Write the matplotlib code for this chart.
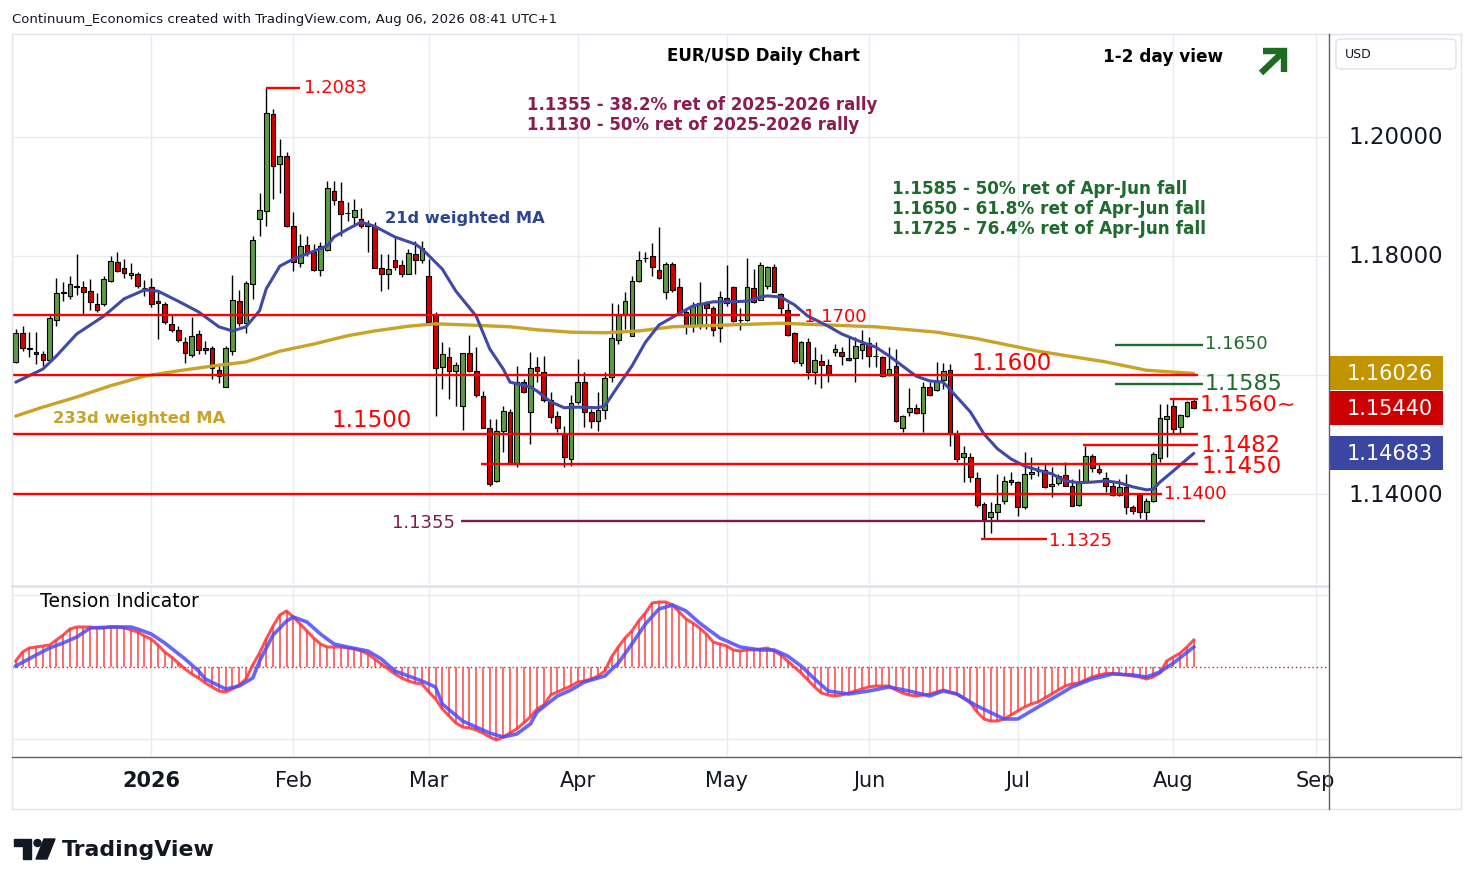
import numpy as np
import pandas as pd
import matplotlib
matplotlib.use("Agg")
import matplotlib.pyplot as plt
from matplotlib.patches import Rectangle, Ellipse, Polygon, FancyBboxPatch
from matplotlib.lines import Line2D

# ---------------------------------------------------------------- data
# EUR/USD daily candles, 3 Dec 2025 .. 6 Aug 2026
opens = [1.1622, 1.1671, 1.1645, 1.1638, 1.1635, 1.1625, 1.1692, 1.1738, 1.1733, 1.1750,
         1.1748, 1.1741, 1.1719, 1.1719, 1.1758, 1.1790, 1.1780, 1.1768, 1.1770, 1.1747,
         1.1748, 1.1725, 1.1719, 1.1685, 1.1675, 1.1655, 1.1634, 1.1669, 1.1645, 1.1645,
         1.1608, 1.1580, 1.1640, 1.1724, 1.1687, 1.1753, 1.1862, 1.1876, 1.2039, 1.1955,
         1.1968, 1.1850, 1.1788, 1.1818, 1.1806, 1.1776, 1.1810, 1.1909, 1.1892, 1.1873,
         1.1866, 1.1862, 1.1850, 1.1851, 1.1780, 1.1769, 1.1793, 1.1785, 1.1770, 1.1803,
         1.1793, 1.1766, 1.1700, 1.1613, 1.1630, 1.1607, 1.1548, 1.1637, 1.1607, 1.1565,
         1.1511, 1.1422, 1.1506, 1.1538, 1.1450, 1.1588, 1.1538, 1.1613, 1.1605, 1.1558,
         1.1531, 1.1501, 1.1459, 1.1555, 1.1588, 1.1538, 1.1523, 1.1541, 1.1597, 1.1658,
         1.1701, 1.1666, 1.1758, 1.1796, 1.1800, 1.1776, 1.1740, 1.1787, 1.1748, 1.1706,
         1.1682, 1.1682, 1.1719, 1.1713, 1.1679, 1.1729, 1.1748, 1.1692, 1.1692, 1.1746,
         1.1726, 1.1750, 1.1782, 1.1736, 1.1710, 1.1671, 1.1620, 1.1655, 1.1605, 1.1624,
         1.1617, 1.1639, 1.1639, 1.1629, 1.1629, 1.1642, 1.1654, 1.1632, 1.1630, 1.1602,
         1.1615, 1.1511, 1.1538, 1.1545, 1.1536, 1.1580, 1.1575, 1.1592, 1.1608, 1.1500,
         1.1463, 1.1463, 1.1427, 1.1383, 1.1361, 1.1369, 1.1388, 1.1424, 1.1420, 1.1378,
         1.1434, 1.1439, 1.1440, 1.1414, 1.1418, 1.1432, 1.1413, 1.1382, 1.1420, 1.1464,
         1.1442, 1.1427, 1.1413, 1.1398, 1.1412, 1.1378, 1.1398, 1.1370, 1.1388, 1.1461,
         1.1526, 1.1548, 1.1513, 1.1531, 1.1557]
highs = [1.1677, 1.1682, 1.1672, 1.1672, 1.1640, 1.1700, 1.1763, 1.1756, 1.1766, 1.1803,
         1.1758, 1.1761, 1.1738, 1.1766, 1.1800, 1.1807, 1.1795, 1.1788, 1.1773, 1.1760,
         1.1763, 1.1740, 1.1723, 1.1702, 1.1682, 1.1664, 1.1697, 1.1676, 1.1657, 1.1649,
         1.1615, 1.1649, 1.1768, 1.1743, 1.1758, 1.1834, 1.1906, 1.2083, 1.2047, 1.1997,
         1.1975, 1.1874, 1.1837, 1.1834, 1.1820, 1.1824, 1.1926, 1.1926, 1.1924, 1.1890,
         1.1896, 1.1880, 1.1860, 1.1857, 1.1804, 1.1804, 1.1834, 1.1793, 1.1812, 1.1825,
         1.1825, 1.1795, 1.1706, 1.1655, 1.1647, 1.1622, 1.1637, 1.1667, 1.1647, 1.1573,
         1.1526, 1.1526, 1.1548, 1.1543, 1.1615, 1.1593, 1.1639, 1.1630, 1.1632, 1.1571,
         1.1540, 1.1514, 1.1566, 1.1627, 1.1605, 1.1543, 1.1571, 1.1605, 1.1721, 1.1719,
         1.1739, 1.1766, 1.1808, 1.1807, 1.1822, 1.1849, 1.1790, 1.1790, 1.1763, 1.1711,
         1.1723, 1.1756, 1.1724, 1.1716, 1.1741, 1.1785, 1.1750, 1.1713, 1.1797, 1.1778,
         1.1790, 1.1783, 1.1787, 1.1738, 1.1721, 1.1672, 1.1657, 1.1662, 1.1647, 1.1635,
         1.1627, 1.1652, 1.1647, 1.1664, 1.1664, 1.1676, 1.1664, 1.1655, 1.1632, 1.1647,
         1.1644, 1.1533, 1.1578, 1.1551, 1.1588, 1.1588, 1.1622, 1.1620, 1.1618, 1.1508,
         1.1480, 1.1469, 1.1437, 1.1387, 1.1386, 1.1433, 1.1430, 1.1437, 1.1422, 1.1471,
         1.1463, 1.1447, 1.1450, 1.1445, 1.1434, 1.1454, 1.1425, 1.1442, 1.1481, 1.1467,
         1.1450, 1.1437, 1.1422, 1.1425, 1.1434, 1.1381, 1.1398, 1.1393, 1.1470, 1.1551,
         1.1551, 1.1561, 1.1535, 1.1557, 1.1559]
lows = [1.1620, 1.1640, 1.1630, 1.1618, 1.1615, 1.1622, 1.1682, 1.1724, 1.1728, 1.1735,
        1.1703, 1.1710, 1.1706, 1.1716, 1.1756, 1.1773, 1.1763, 1.1761, 1.1746, 1.1733,
        1.1714, 1.1660, 1.1685, 1.1672, 1.1655, 1.1620, 1.1630, 1.1635, 1.1635, 1.1593,
        1.1587, 1.1580, 1.1633, 1.1682, 1.1670, 1.1728, 1.1834, 1.1850, 1.1896, 1.1906,
        1.1849, 1.1775, 1.1781, 1.1800, 1.1775, 1.1766, 1.1808, 1.1886, 1.1834, 1.1859,
        1.1854, 1.1847, 1.1806, 1.1780, 1.1741, 1.1744, 1.1777, 1.1764, 1.1770, 1.1770,
        1.1788, 1.1685, 1.1531, 1.1576, 1.1560, 1.1548, 1.1508, 1.1605, 1.1563, 1.1511,
        1.1414, 1.1420, 1.1471, 1.1450, 1.1445, 1.1570, 1.1484, 1.1588, 1.1555, 1.1519,
        1.1504, 1.1445, 1.1447, 1.1551, 1.1513, 1.1511, 1.1506, 1.1526, 1.1588, 1.1652,
        1.1677, 1.1666, 1.1756, 1.1790, 1.1766, 1.1761, 1.1728, 1.1740, 1.1706, 1.1669,
        1.1672, 1.1677, 1.1677, 1.1666, 1.1655, 1.1716, 1.1689, 1.1676, 1.1691, 1.1721,
        1.1726, 1.1745, 1.1739, 1.1700, 1.1666, 1.1620, 1.1615, 1.1593, 1.1585, 1.1578,
        1.1588, 1.1632, 1.1617, 1.1623, 1.1588, 1.1627, 1.1613, 1.1613, 1.1597, 1.1598,
        1.1521, 1.1504, 1.1531, 1.1534, 1.1504, 1.1565, 1.1573, 1.1576, 1.1480, 1.1454,
        1.1420, 1.1420, 1.1378, 1.1325, 1.1335, 1.1355, 1.1383, 1.1415, 1.1363, 1.1375,
        1.1425, 1.1430, 1.1410, 1.1395, 1.1415, 1.1413, 1.1380, 1.1380, 1.1420, 1.1437,
        1.1434, 1.1403, 1.1397, 1.1397, 1.1366, 1.1366, 1.1360, 1.1355, 1.1387, 1.1454,
        1.1462, 1.1503, 1.1503, 1.1529, 1.1543]
closes = [1.1671, 1.1645, 1.1643, 1.1636, 1.1625, 1.1696, 1.1738, 1.1740, 1.1753, 1.1748,
          1.1740, 1.1722, 1.1709, 1.1761, 1.1792, 1.1775, 1.1771, 1.1771, 1.1750, 1.1746,
          1.1719, 1.1721, 1.1689, 1.1675, 1.1659, 1.1637, 1.1665, 1.1642, 1.1642, 1.1612,
          1.1598, 1.1645, 1.1726, 1.1687, 1.1755, 1.1827, 1.1877, 1.2040, 1.1951, 1.1968,
          1.1850, 1.1790, 1.1817, 1.1805, 1.1776, 1.1817, 1.1914, 1.1894, 1.1871, 1.1872,
          1.1878, 1.1850, 1.1853, 1.1780, 1.1769, 1.1778, 1.1782, 1.1770, 1.1805, 1.1793,
          1.1814, 1.1689, 1.1612, 1.1635, 1.1607, 1.1617, 1.1637, 1.1607, 1.1566, 1.1511,
          1.1417, 1.1506, 1.1540, 1.1450, 1.1588, 1.1571, 1.1612, 1.1607, 1.1558, 1.1529,
          1.1511, 1.1462, 1.1553, 1.1588, 1.1538, 1.1523, 1.1541, 1.1595, 1.1662, 1.1701,
          1.1724, 1.1758, 1.1793, 1.1797, 1.1781, 1.1763, 1.1787, 1.1743, 1.1706, 1.1682,
          1.1716, 1.1721, 1.1713, 1.1676, 1.1731, 1.1721, 1.1691, 1.1693, 1.1748, 1.1723,
          1.1785, 1.1782, 1.1740, 1.1713, 1.1668, 1.1624, 1.1655, 1.1605, 1.1625, 1.1617,
          1.1602, 1.1644, 1.1632, 1.1625, 1.1649, 1.1652, 1.1632, 1.1632, 1.1598, 1.1610,
          1.1523, 1.1531, 1.1545, 1.1536, 1.1580, 1.1566, 1.1590, 1.1607, 1.1500, 1.1459,
          1.1469, 1.1428, 1.1381, 1.1358, 1.1369, 1.1384, 1.1422, 1.1420, 1.1378, 1.1434,
          1.1437, 1.1438, 1.1412, 1.1417, 1.1430, 1.1413, 1.1380, 1.1418, 1.1464, 1.1444,
          1.1437, 1.1413, 1.1398, 1.1412, 1.1378, 1.1371, 1.1370, 1.1388, 1.1467, 1.1528,
          1.1531, 1.1510, 1.1533, 1.1555, 1.1544]

# 21d weighted MA (bar index, value)
ma21_idx = [0, 4, 6, 9, 13, 16, 19, 21, 24, 27, 30, 32, 34, 36, 37, 39, 41, 44, 46, 47,
            49, 51, 53, 56, 59, 60, 63, 65, 68, 70, 72, 73, 76, 77, 79, 81, 83, 86, 87, 89,
            91, 93, 95, 97, 100, 103, 105, 108, 110, 111, 113, 115, 117, 120, 122, 125, 127, 129, 131, 133,
            135, 137, 139, 141, 143, 145, 147, 149, 151, 153, 155, 157, 159, 161, 163, 165, 167, 168, 169, 171,
            174]
ma21_val = [1.1588, 1.1610, 1.1632, 1.1669, 1.1699, 1.1728, 1.1743, 1.1741, 1.1724, 1.1706,
            1.1681, 1.1674, 1.1681, 1.1708, 1.1745, 1.1783, 1.1795, 1.1808, 1.1817, 1.1832,
            1.1845, 1.1857, 1.1850, 1.1832, 1.1820, 1.1812, 1.1778, 1.1741, 1.1699, 1.1644,
            1.1610, 1.1588, 1.1580, 1.1573, 1.1555, 1.1545, 1.1546, 1.1545, 1.1548, 1.1582,
            1.1615, 1.1655, 1.1684, 1.1697, 1.1716, 1.1723, 1.1723, 1.1724, 1.1731, 1.1733,
            1.1731, 1.1718, 1.1699, 1.1682, 1.1669, 1.1655, 1.1647, 1.1632, 1.1615, 1.1598,
            1.1590, 1.1588, 1.1563, 1.1538, 1.1501, 1.1476, 1.1459, 1.1447, 1.1440, 1.1434,
            1.1422, 1.1419, 1.1420, 1.1422, 1.1419, 1.1412, 1.1407, 1.1408, 1.1420, 1.1439,
            1.14683]

# 233d weighted MA
ma233_idx = [0, 4, 9, 14, 19, 24, 29, 34, 39, 44, 49, 53, 58, 62, 67, 73, 77, 82, 87, 92,
             97, 105, 113, 120, 127, 136, 142, 151, 161, 167, 174]
ma233_val = [1.1531, 1.1546, 1.1563, 1.1582, 1.1598, 1.1607, 1.1615, 1.1622, 1.1640, 1.1652,
             1.1666, 1.1674, 1.1682, 1.1686, 1.1684, 1.1681, 1.1676, 1.1672, 1.1671, 1.1674,
             1.1681, 1.1684, 1.1687, 1.1684, 1.1681, 1.1672, 1.1661, 1.1640, 1.1622, 1.1608,
             1.16026]

# Tension indicator, one value per bar
tension = [0.6, 1.5, 1.9, 2.0, 2.1, 2.2, 2.7, 3.2, 3.8, 4.0,
           4.0, 4.0, 3.9, 3.9, 4.0, 4.0, 3.9, 3.7, 3.5, 3.1,
           2.8, 2.2, 1.5, 1.0, 0.4, -0.2, -0.7, -1.1, -1.6, -2.0,
           -2.4, -2.5, -2.2, -1.8, -1.2, 0.2, 1.4, 2.8, 4.1, 5.2,
           5.6, 5.0, 4.3, 3.6, 2.9, 2.3, 2.0, 2.0, 2.0, 1.9,
           1.8, 1.6, 1.3, 0.8, 0.3, -0.2, -0.7, -1.1, -1.4, -1.6,
           -1.7, -2.5, -3.2, -4.2, -4.9, -5.6, -6.0, -6.1, -6.3, -6.6,
           -7.0, -7.3, -7.0, -6.6, -6.2, -5.6, -5.0, -4.2, -3.8, -2.8,
           -2.5, -2.2, -1.9, -1.5, -1.4, -1.2, -0.9, -0.4, 1.0, 2.0,
           2.9, 3.6, 4.6, 5.4, 6.4, 6.5, 6.5, 6.2, 5.5, 4.8,
           4.4, 3.9, 3.3, 2.5, 2.3, 2.1, 1.7, 1.6, 1.7, 1.7,
           1.8, 1.9, 1.6, 1.2, 0.6, 0.0, -0.6, -1.3, -2.0, -2.6,
           -2.8, -2.9, -2.8, -2.6, -2.4, -2.2, -2.0, -1.9, -1.9, -1.9,
           -2.3, -2.6, -2.8, -2.9, -2.8, -2.7, -2.5, -2.3, -2.5, -2.7,
           -3.1, -3.6, -4.5, -5.2, -5.4, -5.4, -5.2, -4.8, -4.4, -4.0,
           -3.7, -3.5, -3.1, -2.7, -2.3, -1.9, -1.7, -1.6, -1.3, -1.0,
           -0.8, -0.65, -0.65, -0.7, -0.8, -0.9, -1.0, -1.2, -1.0, -0.6,
           0.6, 1.0, 1.4, 2.0, 2.7]

# Tension signal line
sig_idx = [0, 3, 5, 7, 9, 11, 14, 17, 18, 20, 22, 25, 27, 28, 31, 33, 35, 36, 38, 40,
           41, 43, 45, 47, 49, 52, 54, 56, 60, 62, 63, 66, 68, 70, 72, 74, 76, 77, 80, 82,
           84, 87, 89, 91, 93, 95, 97, 99, 101, 104, 107, 110, 112, 114, 116, 118, 120, 123, 126, 129,
           132, 135, 137, 139, 142, 146, 148, 150, 153, 156, 159, 162, 165, 167, 169, 171, 174]
sig_val = [0.1, 1.2, 1.9, 2.4, 3.0, 3.9, 4.0, 4.0, 3.8, 3.3, 2.4, 0.8, -0.4, -1.2, -2.2, -1.9, -1.1, 0.6, 3.2, 4.6,
           5.0, 4.5, 3.3, 2.3, 2.0, 1.6, 0.8, -0.4, -1.4, -2.0, -3.7, -5.4, -6.0, -6.6, -7.0, -6.7, -5.7, -4.5, -2.9, -2.3,
           -1.5, -0.9, 0.4, 2.3, 4.3, 5.8, 6.2, 5.6, 4.4, 2.9, 2.0, 1.7, 1.7, 1.1, 0.1, -1.2, -2.4, -2.7, -2.4, -2.0,
           -2.4, -2.9, -2.4, -2.7, -3.9, -5.2, -5.2, -4.4, -3.2, -2.0, -1.2, -0.7, -0.8, -1.0, -0.5, 0.4, 2.0]

# marked levels
red_levels = [1.2083, 1.1700, 1.1600, 1.1500, 1.1482, 1.1450, 1.1400, 1.1325, 1.1560]
green_levels = [1.1650, 1.1585]
fib_level = 1.1355
axis_prices = [1.20, 1.18, 1.14]
grid_prices = [1.20, 1.18, 1.16, 1.14]
month_names = ["2026", "Feb", "Mar", "Apr", "May", "Jun", "Jul", "Aug", "Sep"]

# ---------------------------------------------------------------- layout
W, H = 1474, 887
X0_PX, BAR_PX = 15.8, 6.77          # pixel of bar 0 and bar spacing
REF_PRICE, REF_PX, PX_PER_UNIT = 1.16, 376.0, 5950.0
LEFT, RIGHT = 12, 1328
MAIN_TOP, MAIN_BOT = 35, 585
LOW_TOP, LOW_BOT = 588, 757

def fx(px):
    return px / W

def fy(py):
    return 1 - py / H

def bar_at(px):
    return (px - X0_PX) / BAR_PX

def price_at(py):
    return REF_PRICE + (REF_PX - py) / PX_PER_UNIT

def py_of(price):
    return REF_PX - (price - REF_PRICE) * PX_PER_UNIT

RED = '#ff0000'
GREEN_TXT = '#1e6b2e'
PURPLE = '#7d1d4f'
GRID = '#e6ebf2'
DARK = '#131722'

fig = plt.figure(figsize=(W / 100, H / 100), dpi=100)
fig.patch.set_facecolor('white')

ax = fig.add_axes([fx(LEFT), fy(MAIN_BOT), (RIGHT - LEFT) / W, (MAIN_BOT - MAIN_TOP) / H])
axl = fig.add_axes([fx(LEFT), fy(LOW_BOT), (RIGHT - LEFT) / W, (LOW_BOT - LOW_TOP) / H])

for a in (ax, axl):
    a.set_xlim(bar_at(LEFT), bar_at(RIGHT))
    for s in a.spines.values():
        s.set_visible(False)
    a.set_xticks([])
    a.set_yticks([])

ax.set_ylim(price_at(MAIN_BOT), price_at(MAIN_TOP))
axl.set_ylim((668 - LOW_BOT) / 10, (668 - LOW_TOP) / 10)

# trading-day calendar for the x axis
days = pd.bdate_range('2025-12-03', '2026-09-30')
days = days[~days.isin(pd.to_datetime(['2025-12-25', '2026-01-01']))]
month_start = []
for m in range(1, 10):
    month_start.append(int(np.argmax((days.year == 2026) & (days.month == m))))

# grid
for m in month_start:
    ax.axvline(m, color=GRID, lw=1, zorder=0)
    axl.axvline(m, color=GRID, lw=1, zorder=0)
for p in grid_prices:
    ax.axhline(p, color=GRID, lw=1, zorder=0)
for v in (7.2, -7.2):
    axl.axhline(v, color=GRID, lw=1, zorder=0)

# candles
n = len(closes)
idx = np.arange(n)
o = np.array(opens)
c = np.array(closes)
up = c >= o
body_lo = np.minimum(o, c)
body_h = np.maximum(np.abs(c - o), 0.00004)
ax.vlines(idx, lows, highs, color='black', lw=1, zorder=2)
ax.bar(idx[up], body_h[up], bottom=body_lo[up], width=0.7, color='#5d9c43',
       edgecolor='black', linewidth=0.8, zorder=3)
ax.bar(idx[~up], body_h[~up], bottom=body_lo[~up], width=0.7, color='#d00000',
       edgecolor='black', linewidth=0.8, zorder=3)

# moving averages
ax.plot(ma233_idx, ma233_val, color='#c9a227', lw=2.4, zorder=4, solid_capstyle='round')
ax.plot(ma21_idx, ma21_val, color='#4149a8', lw=2.2, zorder=4, solid_capstyle='round')

# level lines (spans in pixels)
red_spans = [(266, 300), (12, 800), (12, 1198), (12, 1198), (1083, 1198),
             (481, 1198), (12, 1162), (981, 1047), (1170, 1198)]
for lvl, (x1, x2) in zip(red_levels, red_spans):
    ax.hlines(lvl, bar_at(x1), bar_at(x2), color=RED, lw=1.7, zorder=5)
for lvl in green_levels:
    ax.hlines(lvl, bar_at(1115), bar_at(1203), color=GREEN_TXT, lw=1.7, zorder=5)
ax.hlines(fib_level, bar_at(461), bar_at(1205), color=PURPLE, lw=1.7, zorder=5)

# level labels (pixel positions, size)
red_label_pos = [(304, 88, 13), (804, 317, 13), (971, 363, 16.5), (331, 421, 16.5),
                 (1200, 446, 16.5), (1201, 467, 16.5), (1164, 494, 13), (1049, 541, 13),
                 (1200, 405, 16)]
for lvl, (x, y, fs) in zip(red_levels, red_label_pos):
    txt = f"{lvl:.4f}" + ("~" if lvl == 1.1560 else "")
    fig.text(fx(x), fy(y), txt, color=RED, fontsize=fs, va='center', ha='left', zorder=6)
fig.text(fx(1205), fy(344), f"{green_levels[0]:.4f}", color=GREEN_TXT, fontsize=13, va='center')
fig.text(fx(1205), fy(384), f"{green_levels[1]:.4f}", color=GREEN_TXT, fontsize=16, va='center')
fig.text(fx(392), fy(523), f"{fib_level:.4f}", color=PURPLE, fontsize=13, va='center')

# annotations
fig.text(fx(12), fy(19), "Continuum_Economics created with TradingView.com, Aug 06, 2026 08:41 UTC+1",
         fontsize=9.5, color=DARK, va='center')
fig.text(fx(763), fy(56), "EUR/USD Daily Chart", fontsize=12, fontweight='bold',
         color='black', ha='center', va='center')
fig.text(fx(1103), fy(57), "1-2 day view", fontsize=12.2, fontweight='bold', color='black', va='center')

# green "up" arrow
arrow_green = '#1e6b22'
fig.add_artist(Line2D([fx(1261), fx(1283)], [fy(74), fy(53)], color=arrow_green, lw=4.6,
                      transform=fig.transFigure, solid_capstyle='butt'))
fig.add_artist(Line2D([fx(1263), fx(1284), fx(1284)], [fy(52), fy(52), fy(73)], color=arrow_green,
                      lw=4.6, transform=fig.transFigure, solid_joinstyle='miter',
                      solid_capstyle='butt'))

fig.text(fx(527), fy(105), "1.1355 - 38.2% ret of 2025-2026 rally", fontsize=12,
         fontweight='bold', color='#8b1c52', va='center')
fig.text(fx(527), fy(125), "1.1130 - 50% ret of 2025-2026 rally", fontsize=12,
         fontweight='bold', color='#8b1c52', va='center')
fig.text(fx(892), fy(189), "1.1585 - 50% ret of Apr-Jun fall", fontsize=12.2,
         fontweight='bold', color=GREEN_TXT, va='center')
fig.text(fx(892), fy(209), "1.1650 - 61.8% ret of Apr-Jun fall", fontsize=12.2,
         fontweight='bold', color=GREEN_TXT, va='center')
fig.text(fx(892), fy(229), "1.1725 - 76.4% ret of Apr-Jun fall", fontsize=12.2,
         fontweight='bold', color=GREEN_TXT, va='center')
fig.text(fx(385), fy(219), "21d weighted MA", fontsize=11.7, fontweight='bold', color='#2b4593', va='center')
fig.text(fx(53), fy(419), "233d weighted MA", fontsize=11.8, fontweight='bold', color='#c9a227', va='center')

# tension pane
axl.vlines(idx, 0, tension, color='#ff4d4d', lw=1.3, alpha=0.9, zorder=2)
axl.plot(idx, tension, color='#ff3333', lw=2.2, alpha=0.85, zorder=3)
axl.plot(sig_idx, sig_val, color='#4b4bff', lw=2.6, alpha=0.85, zorder=4)
axl.axhline(0, color='#d02020', lw=1, ls=(0, (1, 2)), zorder=1)
fig.text(fx(40), fy(602), "Tension Indicator", fontsize=13.5, color='black', va='center')

# x-axis month labels
for m, name in zip(month_start, month_names):
    xp = X0_PX + m * BAR_PX
    fig.text(fx(xp), fy(781), name, fontsize=15, color=DARK, ha='center', va='center',
             fontweight='bold' if name == "2026" else 'normal')

# right price axis
for p in axis_prices:
    fig.text(fx(1348), fy(py_of(p)), f"{p:.5f}", fontsize=16.5, color=DARK, va='center')
boxes = [(ma233_val[-1], '#c29500'), (closes[-1], '#cc0000'), (ma21_val[-1], '#3a46a2')]
for val, col in boxes:
    yc = py_of(val)
    fig.add_artist(Rectangle((fx(1330), fy(yc + 17)), 113 / W, 34 / H,
                             transform=fig.transFigure, facecolor=col, edgecolor='none', zorder=8))
    fig.text(fx(1347), fy(yc), f"{val:.5f}", fontsize=15, color='white', va='center', zorder=9)

fig.add_artist(FancyBboxPatch((fx(1336), fy(70)), 120 / W, 30 / H, transform=fig.transFigure,
                              boxstyle='round,pad=0,rounding_size=0.004', facecolor='white',
                              edgecolor='#e0e3eb', lw=1))
fig.text(fx(1345), fy(55), "USD", fontsize=9, color=DARK, va='center')

# frame lines
def fline(x1, y1, x2, y2, color, lw):
    fig.add_artist(Line2D([fx(x1), fx(x2)], [fy(y1), fy(y2)], color=color, lw=lw,
                          transform=fig.transFigure, zorder=10))

fline(12, 35, 1461, 35, '#e0e3eb', 1)
fline(12, 35, 12, 810, '#e0e3eb', 1)
fline(1461, 35, 1461, 810, '#e0e3eb', 1)
fline(12, 810, 1461, 810, '#e0e3eb', 1)
fline(12, 586.5, 1328, 586.5, '#e0e3eb', 2)
fline(1328.5, 35, 1328.5, 810, '#5d606b', 1)
fline(12, 757.5, 1461, 757.5, '#5d606b', 1)

# TradingView logo
fig.add_artist(Rectangle((fx(14), fy(847)), 17 / W, 7 / H, transform=fig.transFigure, color=DARK))
fig.add_artist(Rectangle((fx(23), fy(860)), 8 / W, 13 / H, transform=fig.transFigure, color=DARK))
fig.add_artist(Ellipse((fx(37.5), fy(844)), 7 / W, 7 / H, transform=fig.transFigure, color=DARK))
fig.add_artist(Polygon([(fx(44), fy(840)), (fx(55), fy(840)), (fx(47), fy(860)), (fx(36), fy(860))],
                       closed=True, transform=fig.transFigure, color=DARK))
fig.text(fx(62), fy(850), "TradingView", fontsize=15.8, fontweight='bold', color=DARK, va='center')

fig.savefig("out.png", dpi=100)
